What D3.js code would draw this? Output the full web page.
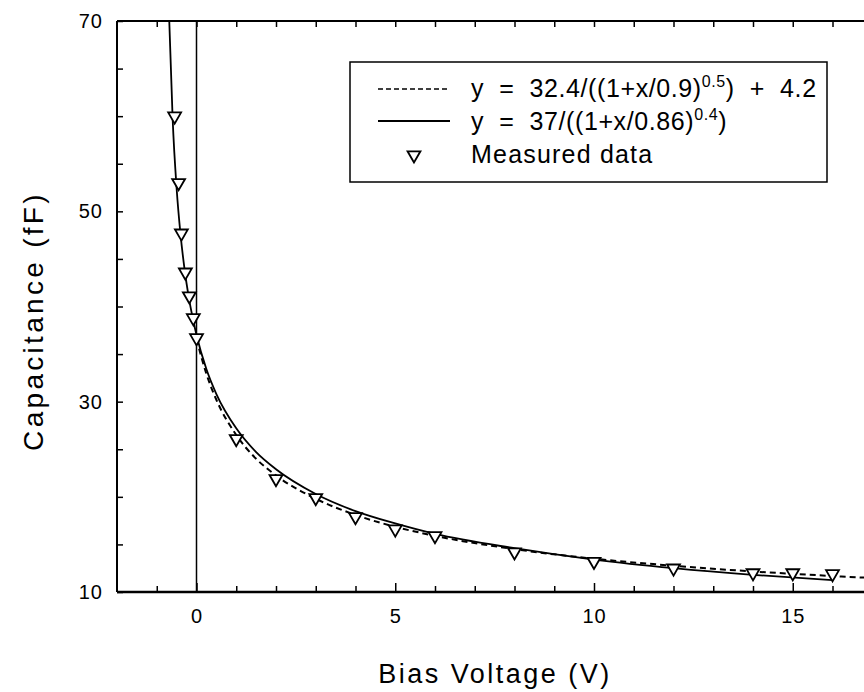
<!DOCTYPE html>
<html>
<meta charset="utf-8">
<style>
  body { margin: 0; background: #fff; }
  text { font-family: "Liberation Sans", Arial, sans-serif; fill: #000; }
  .axis path { display: none; }
  .axis line { stroke: #000; stroke-width: 1.5px; }
  .axis text { font-size: 20px; letter-spacing: 1px; }
</style>
<head>
<script src="https://cdnjs.cloudflare.com/ajax/libs/d3/7.8.5/d3.min.js"></script>
</head>
<body>
<script>
// measured points
var measX = [-0.55, -0.45, -0.38, -0.28, -0.18, -0.08, 0, 1, 2, 3, 4, 5, 6, 8, 10, 12, 14, 15, 16];
var measY = [60, 53, 47.7, 43.6, 41.1, 38.8, 36.7, 26.1, 21.9, 19.9, 17.9, 16.6, 15.9, 14.2, 13.2, 12.5, 12.0, 12.0, 11.9];

// solid fit, points
var solidX = [-0.685, -0.6, -0.5, -0.4, -0.3, -0.2, -0.1, 0, 0.25, 0.5, 1, 1.5, 2, 3, 4, 5, 6, 8, 10, 12, 14, 16];
var solidY = [70, 59.7, 52.4, 47.5, 43.9, 41.1, 38.9, 37, 33.4, 30.8, 27.2, 24.7, 22.9, 20.3, 18.5, 17.2, 16.1, 14.6, 13.4, 12.5, 11.8, 11.25];

// dashed fit
var dashX = [0, 0.25, 0.5, 1, 1.5, 2, 3, 4, 5, 6, 8, 10, 12, 14, 16, 18];
var dashY = [36.6, 32.9, 30.2, 26.5, 24.0, 22.25, 19.8, 18.1, 16.85, 15.9, 14.5, 13.5, 12.76, 12.16, 11.68, 11.27];

// vertical line at 0 V
var zeroLine = [[0, 10], [0, 70]];

var xMinor = d3.range(-1, 18, 1);
var xMajor = [0, 5, 10, 15];
var yMinor = d3.range(10, 71, 5);
var yMajor = [10, 30, 50, 70];

var width = 864, height = 692;
var mLeft = 117, mTop = 21, mBottom = 592;

var x = d3.scaleLinear().domain([-2, 18]).range([mLeft, mLeft + 20 * 39.75]);
var y = d3.scaleLinear().domain([10, 70]).range([mBottom, mTop]);

var svg = d3.select("body").append("svg")
    .attr("width", width)
    .attr("height", height);

// frame
svg.append("line").attr("x1", mLeft).attr("x2", x(18)).attr("y1", mTop).attr("y2", mTop)
    .attr("stroke", "#000").attr("stroke-width", 2);
svg.append("line").attr("x1", mLeft).attr("x2", x(18)).attr("y1", mBottom).attr("y2", mBottom)
    .attr("stroke", "#000").attr("stroke-width", 2.5);
svg.append("line").attr("x1", mLeft).attr("x2", mLeft).attr("y1", mTop).attr("y2", mBottom)
    .attr("stroke", "#000").attr("stroke-width", 2);

// x ticks (bottom + top)
svg.append("g").attr("class", "axis")
    .attr("transform", "translate(0," + mBottom + ")")
    .call(d3.axisBottom(x).tickValues(xMinor.filter(function(d) { return xMajor.indexOf(d) < 0; })).tickSize(-6).tickFormat(""));
svg.append("g").attr("class", "axis")
    .attr("transform", "translate(0," + mBottom + ")")
    .call(d3.axisBottom(x).tickValues(xMajor).tickSize(-9).tickPadding(17).tickFormat(d3.format("d")));
svg.append("g").attr("class", "axis")
    .attr("transform", "translate(0," + mTop + ")")
    .call(d3.axisTop(x).tickValues(xMinor).tickSize(-6).tickFormat(""));

// y ticks
svg.append("g").attr("class", "axis")
    .attr("transform", "translate(" + mLeft + ",0)")
    .call(d3.axisLeft(y).tickValues(yMinor).tickSize(-6).tickFormat(""));
svg.append("g").attr("class", "axis")
    .attr("transform", "translate(" + mLeft + ",0)")
    .call(d3.axisLeft(y).tickValues(yMajor).tickSize(0).tickPadding(14).tickFormat(d3.format("d")));

// axis titles
svg.append("text")
    .attr("x", 495).attr("y", 683)
    .attr("text-anchor", "middle")
    .style("font-size", "27px").style("letter-spacing", "2.5px")
    .text("Bias Voltage (V)");
svg.append("text")
    .attr("transform", "translate(43,321) rotate(-90)")
    .attr("text-anchor", "middle")
    .style("font-size", "28px").style("letter-spacing", "3.3px")
    .text("Capacitance (fF)");

var line = d3.line()
    .x(function(d) { return x(d[0]); })
    .y(function(d) { return y(d[1]); })
    .curve(d3.curveMonotoneX);

svg.append("path")
    .datum(zeroLine)
    .attr("d", d3.line().x(function(d) { return x(d[0]); }).y(function(d) { return y(d[1]); }))
    .attr("fill", "none").attr("stroke", "#000").attr("stroke-width", 1.5);

svg.append("path")
    .datum(dashX.map(function(d, i) { return [d, dashY[i]]; }))
    .attr("d", line)
    .attr("fill", "none").attr("stroke", "#000").attr("stroke-width", 2)
    .attr("stroke-dasharray", "6,4");

svg.append("path")
    .datum(solidX.map(function(d, i) { return [d, solidY[i]]; }))
    .attr("d", line)
    .attr("fill", "none").attr("stroke", "#000").attr("stroke-width", 1.8);

var tri = d3.symbol().type(d3.symbolTriangle).size(72);

svg.append("g").selectAll("path")
    .data(measX.map(function(d, i) { return [d, measY[i]]; }))
    .enter().append("path")
    .attr("d", tri)
    .attr("transform", function(d) { return "translate(" + x(d[0]) + "," + y(d[1]) + ") rotate(180)"; })
    .attr("fill", "#fff").attr("stroke", "#000").attr("stroke-width", 1.8);

// legend
var lg = svg.append("g");
lg.append("rect").attr("x", 350).attr("y", 62).attr("width", 477).attr("height", 120)
    .attr("fill", "#fff").attr("stroke", "#000").attr("stroke-width", 1.5);
lg.append("line").attr("x1", 378).attr("x2", 450).attr("y1", 89).attr("y2", 89)
    .attr("stroke", "#000").attr("stroke-width", 1.5).attr("stroke-dasharray", "5,3");
lg.append("line").attr("x1", 378).attr("x2", 450).attr("y1", 121).attr("y2", 121)
    .attr("stroke", "#000").attr("stroke-width", 1.8);
lg.append("path").attr("d", tri)
    .attr("transform", "translate(414,155) rotate(180)")
    .attr("fill", "#fff").attr("stroke", "#000").attr("stroke-width", 1.8);

function eq(yPos, parts) {
  var t = lg.append("text").attr("x", 471).attr("y", yPos)
      .style("font-size", "25px").style("letter-spacing", "0.6px")
      .style("white-space", "pre");
  parts.forEach(function(p) {
    var s = t.append("tspan").text(p[0]);
    if (p[1] === "sup") s.style("font-size", "16px").attr("dy", -10);
    if (p[1] === "down") s.attr("dy", 10);
  });
}
eq(97, [["y  =  32.4/((1+x/0.9)"], ["0.5", "sup"], [")  +  4.2", "down"]]);
eq(130, [["y  =  37/((1+x/0.86)"], ["0.4", "sup"], [")", "down"]]);
lg.append("text").attr("x", 471).attr("y", 163)
    .style("font-size", "25px").style("letter-spacing", "1.2px")
    .text("Measured data");
</script>
</body>
</html>
